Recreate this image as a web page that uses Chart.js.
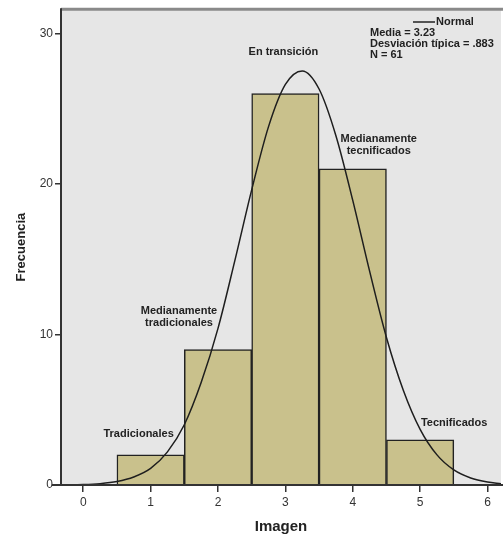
<!DOCTYPE html>
<html>
<head>
<meta charset="utf-8">
<script src="https://cdn.jsdelivr.net/npm/chart.js@4.4.1/dist/chart.umd.min.js"></script>
<style>
  html, body { margin: 0; padding: 0; background: #fff; }
  #wrap { width: 503px; height: 538px; }
</style>
</head>
<body>
<div id="wrap"><canvas id="histChart" width="503" height="538"></canvas></div>
<script>
// histogram of "Imagen"
const categories = [1, 2, 3, 4, 5];
const frequencies = [2, 9, 26, 21, 3];
const barLabels = [
    ['Tradicionales'],
    ['Medianamente', 'tradicionales'],
    ['En transición'],
    ['Medianamente', 'tecnificados'],
    ['Tecnificados']
];

// normal curve
const curveX = [-0.3, 0, 0.25, 0.5, 0.75, 1, 1.25, 1.5, 1.75, 2, 2.25, 2.5, 2.75, 3, 3.25, 3.5, 3.75, 4, 4.25, 4.5, 4.75, 5, 5.25, 5.5, 5.75, 6, 6.2];
const curveY = [0.01, 0.03, 0.09, 0.23, 0.53, 1.1, 2.2, 4.0, 6.8, 10.4, 14.9, 19.6, 23.8, 26.6, 27.5, 26.3, 23.2, 18.9, 14.2, 9.8, 6.3, 3.7, 2.0, 1.0, 0.47, 0.2, 0.09];

const xTicks = [0, 1, 2, 3, 4, 5, 6];
const yTicks = [0, 10, 20, 30];
const legendName = 'Normal';
const stats = ['Media = 3.23', 'Desviación típica = .883', 'N = 61'];

const labelFont = 'bold 11px "Liberation Sans", Arial, sans-serif';

const framePlugin = {
    id: 'frame',
    beforeDraw(chart) {
        const { ctx, chartArea: a } = chart;
        ctx.save();
        ctx.fillStyle = '#e6e6e6';
        ctx.fillRect(a.left, a.top, a.right - a.left, a.bottom - a.top);
        ctx.restore();
    },
    afterDraw(chart) {
        const { ctx, chartArea: a, scales } = chart;
        ctx.save();
        // frame
        ctx.strokeStyle = '#8a8a8a';
        ctx.lineWidth = 3;
        ctx.beginPath();
        ctx.moveTo(a.left, a.top);
        ctx.lineTo(chart.width, a.top);
        ctx.stroke();
        ctx.strokeStyle = '#333';
        ctx.lineWidth = 2;
        ctx.beginPath();
        ctx.moveTo(a.left, a.top - 1);
        ctx.lineTo(a.left, a.bottom);
        ctx.moveTo(a.left - 9, a.bottom);
        ctx.lineTo(chart.width, a.bottom);
        ctx.stroke();

        // bar labels
        const offsets = [[-12, -21], [-39, -39], [-2, -42], [26, -30], [34, -17]];
        ctx.font = labelFont;
        ctx.fillStyle = '#222';
        ctx.textAlign = 'center';
        ctx.textBaseline = 'middle';
        categories.forEach((c, i) => {
            const px = scales.x.getPixelForValue(c) + offsets[i][0];
            const py = scales.y.getPixelForValue(frequencies[i]) + offsets[i][1];
            barLabels[i].forEach((t, j) => ctx.fillText(t, px, py + j * 12));
        });

        // legend box
        ctx.textAlign = 'left';
        ctx.strokeStyle = '#222';
        ctx.lineWidth = 1.5;
        ctx.beginPath();
        ctx.moveTo(413, 22);
        ctx.lineTo(435, 22);
        ctx.stroke();
        ctx.fillText(legendName, 436, 22);
        stats.forEach((t, j) => ctx.fillText(t, 370, 33 + j * 11));
        ctx.restore();
    }
};

const ctx = document.getElementById('histChart').getContext('2d');
const histChart = new Chart(ctx, {
    type: 'bar',
    data: {
        datasets: [{
            type: 'line',
            label: legendName,
            data: curveX.map((x, i) => ({ x: x, y: curveY[i] })),
            borderColor: '#1e1e1e',
            borderWidth: 1.5,
            pointRadius: 0,
            cubicInterpolationMode: 'monotone',
            fill: false,
            order: 0
        }, {
            label: 'Frecuencia',
            data: categories.map((c, i) => ({ x: c, y: frequencies[i] })),
            backgroundColor: '#c9c18c',
            borderColor: '#222',
            borderWidth: 1.5,
            barPercentage: 1,
            categoryPercentage: 1,
            order: 1
        }]
    },
    options: {
        responsive: false,
        animation: false,
        layout: { padding: { top: 7, right: 2, left: 0, bottom: 0 } },
        plugins: { legend: { display: false }, tooltip: { enabled: false } },
        scales: {
            x: {
                type: 'linear',
                min: -0.33,
                max: 6.2,
                offset: false,
                afterFit(scale) { scale.height = 53; },
                afterBuildTicks(scale) { scale.ticks = xTicks.map(v => ({ value: v })); },
                grid: { drawOnChartArea: false, drawTicks: true, tickLength: 7, color: '#333', lineWidth: 1.5, offset: false },
                border: { display: false },
                ticks: { color: '#333', padding: 3, font: { size: 12, family: '"Liberation Sans", Arial' } },
                title: { display: true, text: 'Imagen', color: '#222', padding: { top: 0, bottom: 2 },
                         font: { size: 15, weight: 'bold', family: '"Liberation Sans", Arial' } }
            },
            y: {
                min: 0,
                max: 31.6,
                afterFit(scale) { scale.width = 61; },
                afterBuildTicks(scale) { scale.ticks = yTicks.map(v => ({ value: v })); },
                grid: { drawOnChartArea: false, drawTicks: true, tickLength: 6, color: '#333', lineWidth: 1.5 },
                border: { display: false },
                ticks: { color: '#333', padding: 2, font: { size: 12, family: '"Liberation Sans", Arial' } },
                title: { display: true, text: 'Frecuencia', color: '#222', padding: { top: 14, bottom: 0 },
                         font: { size: 13, weight: 'bold', family: '"Liberation Sans", Arial' } }
            }
        }
    },
    plugins: [framePlugin]
});
</script>
</body>
</html>
